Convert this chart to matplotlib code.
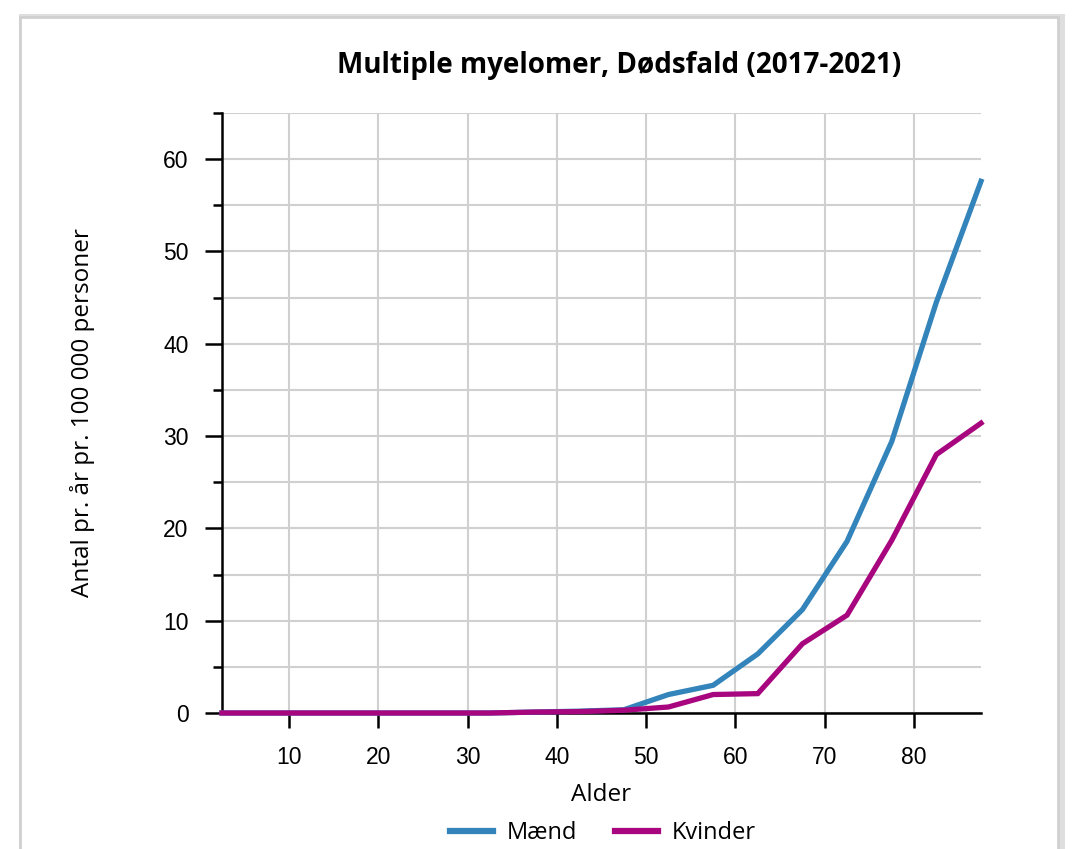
import matplotlib.pyplot as plt
from matplotlib.patches import Rectangle
from matplotlib.lines import Line2D

# Aldersgrupper (midtpunkt af 5-års intervaller)
alder = [2.5, 7.5, 12.5, 17.5, 22.5, 27.5, 32.5, 37.5, 42.5, 47.5,
         52.5, 57.5, 62.5, 67.5, 72.5, 77.5, 82.5, 87.5]
maend = [0.0, 0.0, 0.0, 0.0, 0.0, 0.0, 0.0, 0.1, 0.2, 0.35,
         2.0, 3.0, 6.4, 11.2, 18.6, 29.4, 44.5, 57.6]
kvinder = [0.0, 0.0, 0.0, 0.0, 0.0, 0.0, 0.0, 0.1, 0.15, 0.3,
           0.65, 2.0, 2.1, 7.5, 10.6, 18.7, 28.0, 31.4]

x_ticks = [10, 20, 30, 40, 50, 60, 70, 80]
y_ticks = [0, 10, 20, 30, 40, 50, 60]

blaa = '#3384bb'
lilla = '#a8067f'
label_font = 'Open Sans'
tick_font = 'Liberation Sans'

fig = plt.figure(figsize=(10.74, 8.49), dpi=100)

# card with border and a faint shadow
fig.patches.append(Rectangle((22 / 1074, -0.05), 1039 / 1074, 1.05 - 17 / 849,
                             transform=fig.transFigure, facecolor='none',
                             edgecolor='#c8c8c8', linewidth=5, alpha=0.6, zorder=0))
fig.patches.append(Rectangle((20 / 1074, -0.05), 1038 / 1074, 1.05 - 17 / 849,
                             transform=fig.transFigure, facecolor='white',
                             edgecolor='#d0d0d0', linewidth=2, zorder=0.5))

ax = fig.add_axes([222 / 1074, 1 - 713 / 849, 759 / 1074, 600 / 849])
ax.set_zorder(2)
ax.set_facecolor('none')

ax.plot(alder, maend, color=blaa, linewidth=3.8, solid_joinstyle='miter', clip_on=False, zorder=3)
ax.plot(alder, kvinder, color=lilla, linewidth=3.8, solid_joinstyle='miter', clip_on=False, zorder=3)

ax.set_xlim(2.5, 87.5)
ax.set_ylim(0, 65)
ax.set_xticks(x_ticks, [str(v) for v in x_ticks], fontsize=16.5, family=tick_font)
ax.set_yticks(y_ticks, [str(v) for v in y_ticks], fontsize=16.5, family=tick_font)
ax.set_yticks([5, 15, 25, 35, 45, 55, 65], minor=True)

ax.grid(True, which='both', axis='y', color='#d0d0d0', linewidth=1.5)
ax.grid(True, which='major', axis='x', color='#d0d0d0', linewidth=1.5)
ax.set_axisbelow(True)

for s in ['top', 'right']:
    ax.spines[s].set_visible(False)
for s in ['left', 'bottom']:
    ax.spines[s].set_linewidth(1.8)
    ax.spines[s].set_color('black')

ax.tick_params(axis='x', which='major', length=11, width=1.8, pad=13)
ax.tick_params(axis='y', which='major', length=12, width=1.8, pad=12)
ax.tick_params(axis='y', which='minor', length=6.5, width=1.8)

ax.set_xlabel('Alder', fontsize=17.5, family=label_font, va='center')
ax.xaxis.set_label_coords(0.5, (713 - 795) / 600)
ax.set_ylabel('Antal pr. år pr. 100 000 personer', fontsize=17.5, family=label_font, va='center')
ax.yaxis.set_label_coords((82 - 222) / 759, 0.5)

fig.text(619 / 1074, 1 - 66 / 849, 'Multiple myelomer, Dødsfald (2017-2021)',
         ha='center', va='center', fontsize=20, fontweight='bold', family=label_font)

handles = [Line2D([0], [0], color=blaa, linewidth=4.5),
           Line2D([0], [0], color=lilla, linewidth=4.5)]
fig.legend(handles, ['Mænd', 'Kvinder'], loc='center', bbox_to_anchor=(603 / 1074, 1 - 833 / 849),
           ncol=2, frameon=False, prop={'family': label_font, 'size': 17},
           handlelength=1.8, columnspacing=1.6, handletextpad=0.6)

fig.savefig('out.png', dpi=100)
